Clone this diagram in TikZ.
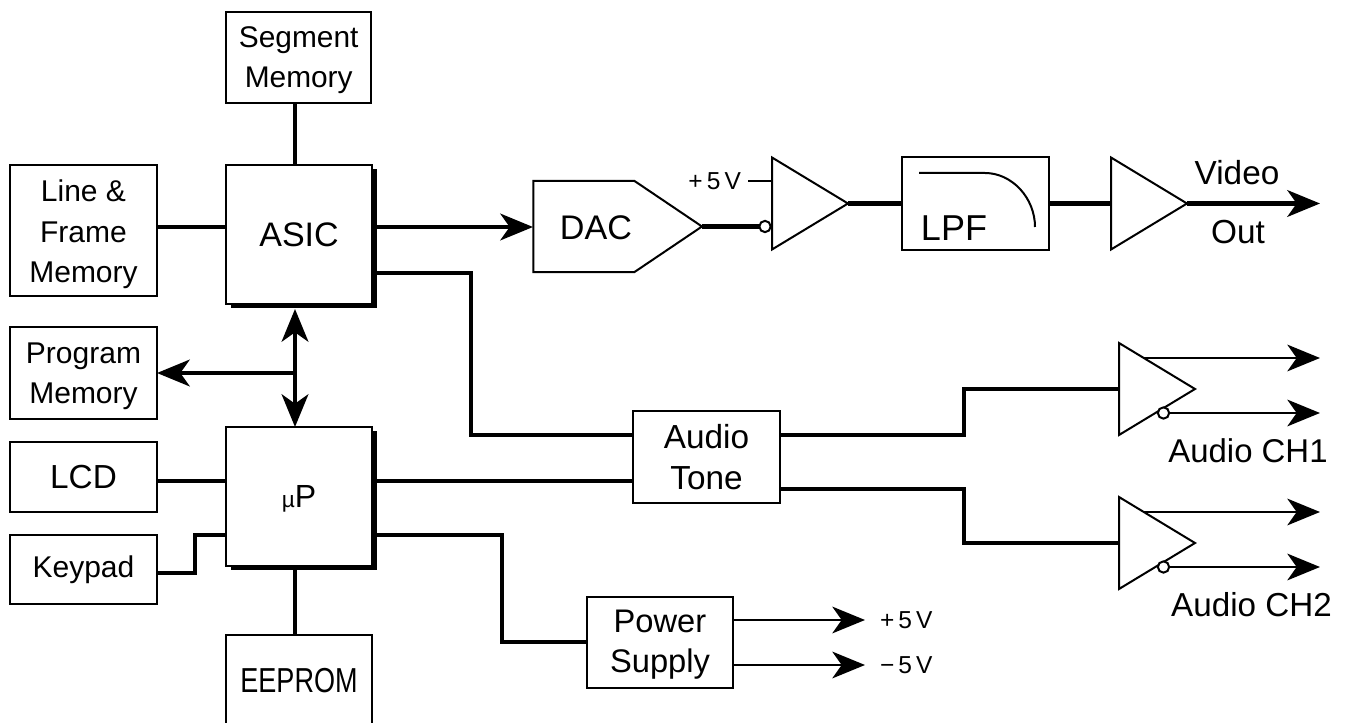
\documentclass[tikz,border=0pt]{standalone}
\usepackage{fontspec}
\setmainfont{Liberation Sans}
\newfontfamily\narrowfont[FakeStretch=0.78]{Liberation Sans}
\usetikzlibrary{arrows.meta,shapes.geometric,shapes.symbols,shadows,calc}
\newcommand{\fs}[1]{\fontsize{#1}{30.2pt}\selectfont}
\newcommand{\dn}[2]{\raisebox{-#1}[\height][\depth]{\parbox{100pt}{\centering #2}}}
\tikzset{
  x=0.75pt,y=-0.75pt,
  box/.style={draw=black,line width=1.5pt,fill=white,inner sep=0pt,outer sep=0pt,align=center,font=\fs{22}},
  sz/.style args={#1x#2}{minimum width=#1*0.75pt,minimum height=#2*0.75pt},
  shadowed/.style={general shadow={fill=black,shadow xshift=3.4pt,shadow yshift=-3.2pt}},
  conn/.style={draw=black,line width=3.2pt,miter limit=10},
  wire/.style={draw=black,line width=2.1pt},
  arr/.style={-{Stealth[length=24.5pt,width=20pt,inset=7pt]}},
  darr/.style={{Stealth[length=24.5pt,width=20pt,inset=7pt]}-{Stealth[length=24.5pt,width=20pt,inset=7pt]}},
  amp/.style={draw=black,line width=1.5pt,fill=white,isosceles triangle,isosceles triangle stretches,
    inner sep=0pt,outer sep=0pt,minimum height=57pt,minimum width=69pt,anchor=apex},
  bubble/.style={circle,draw=black,line width=1.5pt,fill=white,minimum size=8.5pt,inner sep=0pt,outer sep=0pt},
  lab/.style={inner sep=0pt,outer sep=0pt,align=center},
  small/.style={lab,font=\fontsize{18.4}{20}\selectfont},
}
\begin{document}
\begin{tikzpicture}
\useasboundingbox (0,0) rectangle (1346,723);
\coordinate (bus) at (295,0);
% blocks
\node[box,sz=145.5x91,font=\fs{22.4}] (seg) at (298.7,57.5) {\dn{2.2pt}{Segment\\Memory}};
\node[box,sz=147x131,font=\fs{22.5}] (lfm) at (83.5,230.5) {\dn{3pt}{Line \&\\Frame\\Memory}};
\node[box,sz=146x139,shadowed,font=\fs{25.5}] (asic) at (299,234.5) {\dn{0.5pt}{ASIC}};
\node[box,sz=147x92,font=\fs{22.5}] (prog) at (83.5,373) {\dn{2.2pt}{Program\\Memory}};
\node[box,sz=147x70,font=\fs{25}] (lcd) at (83.5,477) {LCD};
\node[box,sz=147x69,font=\fs{22.5}] (key) at (83.5,569.5) {Keypad};
\node[box,sz=146x139,shadowed] (up) at (299,496.5) {\dn{1.5pt}{{\fontsize{17}{20}\selectfont µ}{\fontsize{24}{24}\selectfont P}}};
\node[inner sep=0pt,outer sep=0pt,sz=146x92,font={\narrowfont\fs{26}}] (eep) at (299,681) {EEPROM};
\draw[line width=1.5pt] (eep.north west |- 0,723) -- (eep.north west) -- (eep.north east) -- (eep.north east |- 0,723);
\node[box,sz=147x93] (lpf) at (975.5,203.5) {};
\node[lab,font=\fs{27}] (lpft) at (954,228) {LPF};
\node[box,sz=147x92,font=\fs{25}] (tone) at (706.5,457) {Audio\\Tone};
\node[box,sz=146x91,font=\fs{24.5}] (pwr) at (660,642.5) {\dn{1.5pt}{Power\\Supply}};
\node[draw=black,line width=1.5pt,fill=white,signal,signal to=east,signal pointer angle=68,inner sep=0pt,outer sep=0pt,
  minimum width=126.5pt,minimum height=68.5pt,anchor=east] (dac) at (702,226.5) {};
\node[lab,font=\fs{25.6}] (dact) at (596,228) {DAC};
% amplifiers
\node[amp] (a1) at (848,203.5) {};
\node[amp] (a2) at (1187,203.5) {};
\node[amp] (b1) at (1195,389) {};
\node[amp] (b2) at (1195,543) {};
% bubbles
\node[bubble] (n1) at (765,226.5) {};
\node[bubble] (n2) at (1163.5,413) {};
\node[bubble] (n3) at (1163.5,567) {};
% free ends and bends
\coordinate (v5) at (748,181);
\coordinate (a1v) at (772,181);
\coordinate (video) at (1320,203.5);
\coordinate (o1a) at (1320,358);
\coordinate (o1b) at (1320,413);
\coordinate (o2a) at (1320,512);
\coordinate (o2b) at (1320,567);
\coordinate (p5) at (865,620);
\coordinate (m5) at (865,665);
\coordinate (s1a) at (1143,358);
\coordinate (s2a) at (1143,512);
% connectors
\draw[conn] (bus |- seg.south) -- (bus |- asic.north);
\draw[conn] (lfm.east |- 0,227) -- (asic.west |- 0,227);
\draw[conn,arr] (376,227) -- (533,227);
\draw[conn] (376,273) -- (471,273) -- (471,435) -- (tone.west |- 0,435);
\draw[conn,darr] (bus |- 0,309) -- (bus |- up.north);
\draw[conn,arr] (bus |- 0,373) -- (prog.east |- 0,373);
\draw[conn] (lcd.east |- 0,481) -- (up.west |- 0,481);
\draw[conn] (key.east |- 0,573) -- (195,573) -- (195,535) -- (up.west |- 0,535);
\draw[conn] (bus |- 0,570) -- (bus |- eep.north);
\draw[conn] (376,481) -- (tone.west |- 0,481);
\draw[conn] (376,535) -- (502,535) -- (502,642) -- (pwr.west |- 0,642);
\draw[wire,arr] (pwr.east |- p5) -- (p5);
\draw[wire,arr] (pwr.east |- m5) -- (m5);
\draw[conn] (dac.east) -- (n1.west);
\draw[line width=1.7pt] (v5) -- (a1v);
\draw[conn] (a1.apex) -- (lpf.west);
\draw[conn] (lpf.east) -- (a2.lower side);
\draw[conn,arr] (a2.apex) -- (video);
\draw[conn] (tone.east |- 0,435) -- (964,435) -- (964,389) -- (b1.lower side);
\draw[conn] (tone.east |- 0,489) -- (964,489) -- (964,543) -- (b2.lower side);
\draw[wire,arr] (s1a) -- (o1a);
\draw[wire,arr] (n2.east) -- (o1b);
\draw[wire,arr] (s2a) -- (o2a);
\draw[wire,arr] (n3.east) -- (o2b);
% filter curve
\draw[line width=1.5pt] (919,173) -- (985,173) .. controls (1012,173) and (1035,198) .. (1035,227);
% labels
\node[lab,font=\fs{25}] (tv) at (1237,173) {Video};
\node[lab,font=\fs{25}] (to) at (1238,232) {Out};
\node[lab,font=\fs{24.7}] (ch1) at (1248,451) {Audio CH1};
\node[lab,font=\fs{24.9}] (ch2) at (1251.5,605) {Audio CH2};
\node[small,anchor=east] (t5) at (741,181) {+\,5\,V};
\node[small,anchor=west] (tp) at (880,620) {+\,5\,V};
\node[small,anchor=west] (tm) at (880,665) {−\,5\,V};
\end{tikzpicture}
\end{document}
